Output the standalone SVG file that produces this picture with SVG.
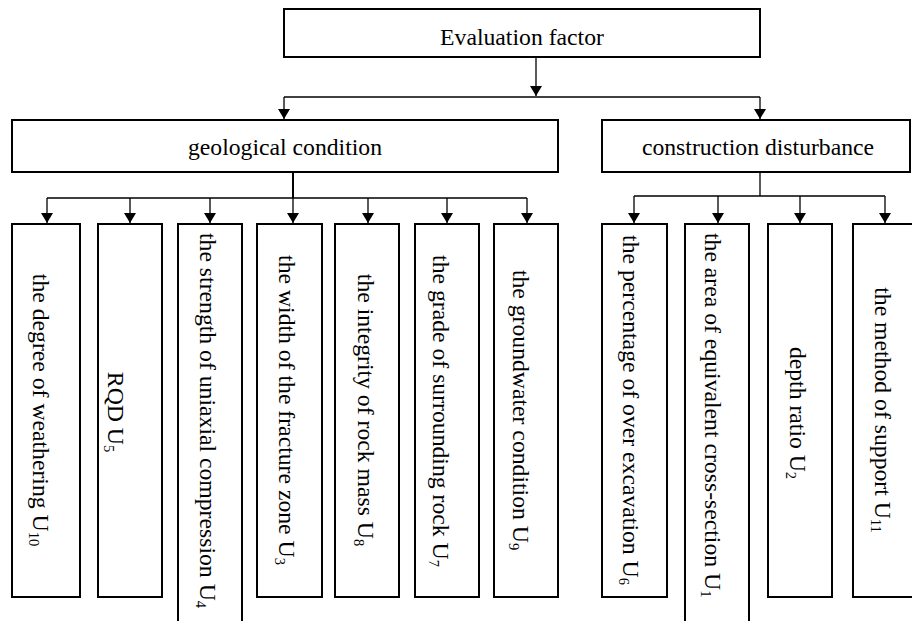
<svg xmlns="http://www.w3.org/2000/svg" width="912" height="621" viewBox="0 0 912 621">
<style>
.box{fill:#fff;stroke:#000;stroke-width:2}
.t{font-family:"Liberation Serif","Times New Roman",serif;font-size:23.7px;fill:#000}
.c{text-anchor:middle}
.s{font-size:14.5px}
.ln{fill:none;stroke:#000;stroke-width:1.3}
.thk{stroke-width:2}
</style>
<defs>
<marker id="ah" viewBox="0 0 10 12" refX="10" refY="6" markerWidth="10" markerHeight="12" markerUnits="userSpaceOnUse" orient="auto">
<path d="M0,0 L10,6 L0,12 Z" fill="#000"/>
</marker>
</defs>
<g id="connectors">
<line class="ln" x1="536" y1="57" x2="536" y2="96" marker-end="url(#ah)"/>
<line class="ln" x1="284" y1="97" x2="760" y2="97"/>
<line class="ln" x1="284" y1="97" x2="284" y2="119" marker-end="url(#ah)"/>
<line class="ln" x1="760" y1="97" x2="760" y2="119" marker-end="url(#ah)"/>
<line class="ln thk" x1="293" y1="172" x2="293" y2="198"/>
<line class="ln" x1="47" y1="198" x2="527" y2="198"/>
<line class="ln" x1="47" y1="198" x2="47" y2="223" marker-end="url(#ah)"/>
<line class="ln" x1="130" y1="198" x2="130" y2="223" marker-end="url(#ah)"/>
<line class="ln" x1="210" y1="198" x2="210" y2="223" marker-end="url(#ah)"/>
<line class="ln" x1="293" y1="198" x2="293" y2="223" marker-end="url(#ah)"/>
<line class="ln" x1="368" y1="198" x2="368" y2="223" marker-end="url(#ah)"/>
<line class="ln" x1="447" y1="198" x2="447" y2="223" marker-end="url(#ah)"/>
<line class="ln" x1="527" y1="198" x2="527" y2="223" marker-end="url(#ah)"/>
<line class="ln" x1="760" y1="172" x2="760" y2="196"/>
<line class="ln" x1="634" y1="196" x2="885" y2="196"/>
<line class="ln" x1="634" y1="196" x2="634" y2="223" marker-end="url(#ah)"/>
<line class="ln" x1="718" y1="196" x2="718" y2="223" marker-end="url(#ah)"/>
<line class="ln" x1="800" y1="196" x2="800" y2="223" marker-end="url(#ah)"/>
<line class="ln" x1="885" y1="196" x2="885" y2="223" marker-end="url(#ah)"/>
</g>
<g id="evaluation-factor">
<rect class="box" x="284" y="9" width="476" height="48"/>
<text class="t c" x="522" y="45">Evaluation factor</text>
</g>
<g id="geological-condition">
<rect class="box" x="12" y="120" width="546" height="52"/>
<text class="t c" x="285" y="155">geological condition</text>
</g>
<g id="construction-disturbance">
<rect class="box" x="602" y="120" width="308" height="52"/>
<text class="t c" x="758" y="155">construction disturbance</text>
</g>
<g id="u10">
<rect class="box" x="12" y="224" width="68" height="373"/>
<text class="t c" transform="translate(33,410) rotate(90)">the degree of weathering U<tspan class="s" dy="4">10</tspan></text>
</g>
<g id="u5">
<rect class="box" x="98" y="224" width="64" height="373"/>
<text class="t c" transform="translate(108,412) rotate(90)">RQD U<tspan class="s" dy="4">5</tspan></text>
</g>
<g id="u4">
<rect class="box" x="178" y="224" width="64" height="400"/>
<text class="t" transform="translate(200,233) rotate(90)">the strength of uniaxial compression U<tspan class="s" dy="4">4</tspan></text>
</g>
<g id="u3">
<rect class="box" x="257" y="224" width="65" height="373"/>
<text class="t c" transform="translate(279,410) rotate(90)">the width of the fracture zone U<tspan class="s" dy="4">3</tspan></text>
</g>
<g id="u8">
<rect class="box" x="335" y="224" width="64" height="373"/>
<text class="t c" transform="translate(358,410) rotate(90)">the integrity of rock mass U<tspan class="s" dy="4">8</tspan></text>
</g>
<g id="u7">
<rect class="box" x="415" y="224" width="64" height="373"/>
<text class="t c" transform="translate(433,411) rotate(90)">the grade of surrounding rock U<tspan class="s" dy="4">7</tspan></text>
</g>
<g id="u9">
<rect class="box" x="494" y="224" width="64" height="373"/>
<text class="t c" transform="translate(513,410) rotate(90)">the groundwater condition U<tspan class="s" dy="4">9</tspan></text>
</g>
<g id="u6">
<rect class="box" x="602" y="224" width="65" height="373"/>
<text class="t c" transform="translate(623,410) rotate(90)">the percentage of over excavation U<tspan class="s" dy="4">6</tspan></text>
</g>
<g id="u1">
<rect class="box" x="685" y="224" width="64" height="400"/>
<text class="t" transform="translate(705,233) rotate(90)">the area of equivalent cross-section U<tspan class="s" dy="4">1</tspan></text>
</g>
<g id="u2">
<rect class="box" x="768" y="224" width="64" height="373"/>
<text class="t c" transform="translate(790,413) rotate(90)">depth ratio U<tspan class="s" dy="4">2</tspan></text>
</g>
<g id="u11">
<rect class="box" x="853" y="224" width="70" height="373"/>
<text class="t c" transform="translate(875,410) rotate(90)">the method of support U<tspan class="s" dy="4">11</tspan></text>
</g>
</svg>
